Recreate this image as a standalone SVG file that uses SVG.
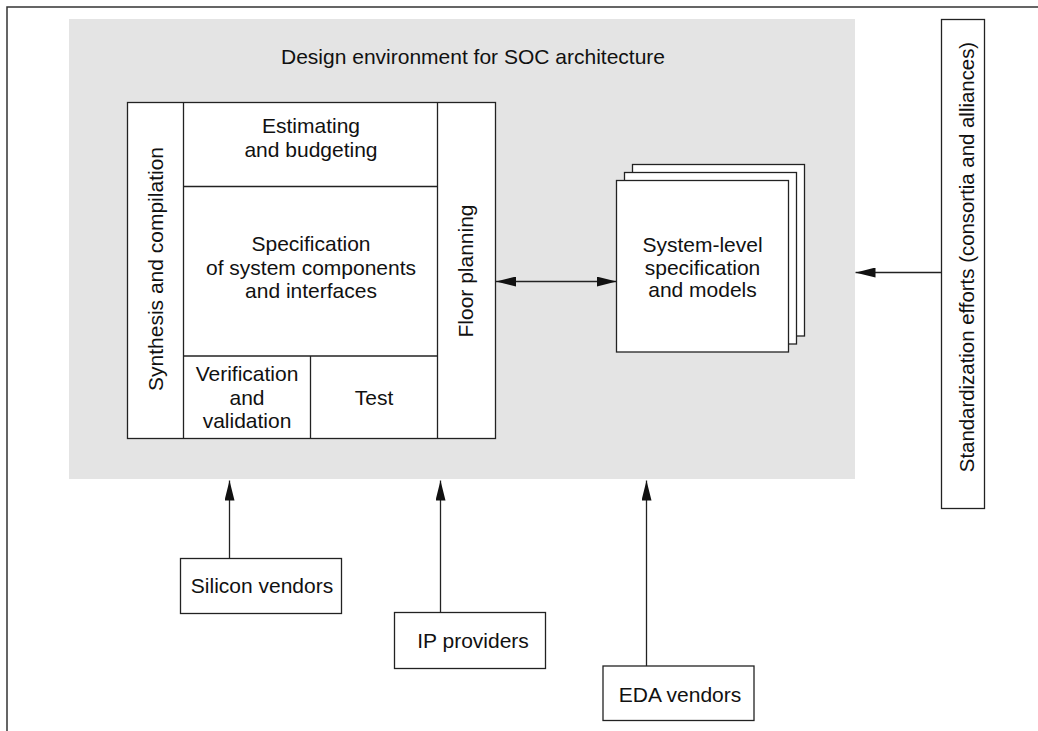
<svg xmlns="http://www.w3.org/2000/svg" width="1038" height="731" viewBox="0 0 1038 731">
  <style>
    .box { fill: #ffffff; stroke: #222222; stroke-width: 1.3; }
    .div { fill: none; stroke: #222222; stroke-width: 1.3; }
    .lbl { font-family: "Liberation Sans", Arial, sans-serif; font-size: 21px; fill: #111111; text-anchor: middle; }
    .wire { fill: none; stroke: #222222; stroke-width: 1.3; }
  </style>
  <defs>
    <marker id="head" viewBox="0 0 20 10" refX="20" refY="5" markerWidth="20" markerHeight="10" markerUnits="userSpaceOnUse" orient="auto-start-reverse">
      <path d="M0,0 L20,5 L0,10 Z" fill="#111111"/>
    </marker>
  </defs>

  <rect width="1038" height="731" fill="#ffffff"/>
  <!-- frame -->
  <rect x="7" y="7" width="1060" height="760" fill="none" stroke="#333333" stroke-width="1.5"/>

  <!-- environment -->
  <g id="environment">
    <rect x="69" y="19" width="786" height="460" fill="#e4e4e4"/>
    <text class="lbl" x="473" y="64">Design environment for SOC architecture</text>
  </g>

  <!-- architecture block -->
  <g id="architecture">
    <rect class="box" x="127.5" y="102.5" width="368" height="336"/>
    <line class="div" x1="183.5" y1="102.5" x2="183.5" y2="438.5"/>
    <line class="div" x1="437.5" y1="102.5" x2="437.5" y2="438.5"/>
    <line class="div" x1="183.5" y1="186.5" x2="437.5" y2="186.5"/>
    <line class="div" x1="183.5" y1="356" x2="437.5" y2="356"/>
    <line class="div" x1="310.5" y1="356" x2="310.5" y2="438.5"/>
  </g>
  <g id="synthesis">
    <text class="lbl" transform="translate(163,269) rotate(-90)">Synthesis and compilation</text>
  </g>
  <g id="floor-planning">
    <text class="lbl" transform="translate(473,271) rotate(-90)">Floor planning</text>
  </g>
  <g id="estimating">
    <text class="lbl" x="311" y="133">Estimating</text>
    <text class="lbl" x="311" y="157">and budgeting</text>
  </g>
  <g id="specification">
    <text class="lbl" x="311" y="251">Specification</text>
    <text class="lbl" x="311" y="274.5">of system components</text>
    <text class="lbl" x="311" y="298">and interfaces</text>
  </g>
  <g id="verification">
    <text class="lbl" x="247" y="381">Verification</text>
    <text class="lbl" x="247" y="404.5">and</text>
    <text class="lbl" x="247" y="428">validation</text>
  </g>
  <g id="test">
    <text class="lbl" x="374" y="404.5">Test</text>
  </g>

  <!-- system-level specification stack -->
  <g id="system-spec">
    <rect class="box" x="632.5" y="164.5" width="172" height="171.5"/>
    <rect class="box" x="624.5" y="172.5" width="172" height="171.5"/>
    <rect class="box" x="616.5" y="180.5" width="172" height="171.5"/>
    <text class="lbl" x="702.5" y="252">System-level</text>
    <text class="lbl" x="702.5" y="274.5">specification</text>
    <text class="lbl" x="702.5" y="297">and models</text>
  </g>

  <!-- standardization -->
  <g id="standardization">
    <rect class="box" x="941.5" y="19.5" width="43" height="489"/>
    <text class="lbl" style="font-size:20.4px" transform="translate(974,257) rotate(-90)">Standardization efforts (consortia and alliances)</text>
  </g>

  <!-- vendors -->
  <g id="silicon-vendors">
    <rect class="box" x="180.5" y="558.5" width="161" height="55"/>
    <text class="lbl" x="262" y="593">Silicon vendors</text>
  </g>
  <g id="ip-providers">
    <rect class="box" x="394.5" y="612.5" width="151" height="56"/>
    <text class="lbl" x="473" y="648">IP providers</text>
  </g>
  <g id="eda-vendors">
    <rect class="box" x="603" y="666" width="151" height="54.5"/>
    <text class="lbl" x="680" y="701.5">EDA vendors</text>
  </g>

  <!-- connectors -->
  <g id="connectors">
    <line class="wire" x1="496" y1="281.5" x2="616.5" y2="281.5" marker-start="url(#head)" marker-end="url(#head)"/>
    <line class="wire" x1="941.5" y1="272.5" x2="855.5" y2="272.5" marker-end="url(#head)"/>
    <line class="wire" x1="229.5" y1="558.5" x2="229.5" y2="480.5" marker-end="url(#head)"/>
    <line class="wire" x1="440.5" y1="612.5" x2="440.5" y2="480.5" marker-end="url(#head)"/>
    <line class="wire" x1="646.5" y1="666" x2="646.5" y2="480.5" marker-end="url(#head)"/>
  </g>
</svg>
